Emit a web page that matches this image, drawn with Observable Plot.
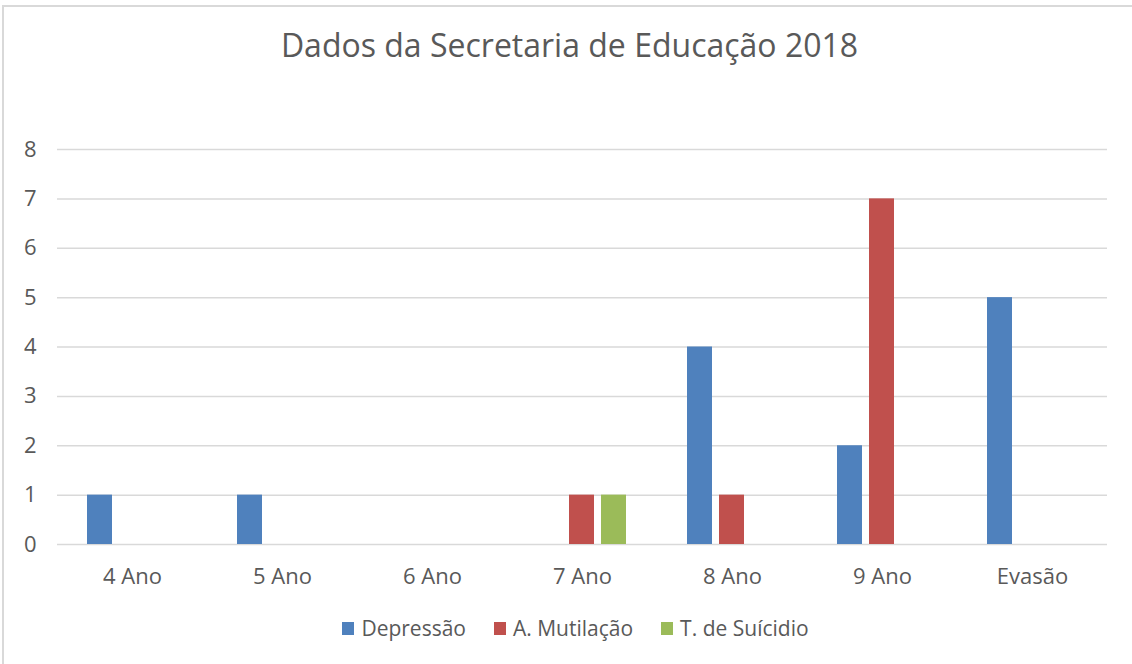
<!DOCTYPE html>
<html>
<head>
<meta charset="utf-8">
<script src="https://cdn.jsdelivr.net/npm/d3@7"></script>
<script src="https://cdn.jsdelivr.net/npm/@observablehq/plot@0.6"></script>
<style>
  html, body { margin: 0; padding: 0; background: #fff; }
  #wrap { position: relative; width: 1132px; height: 664px; overflow: hidden; font-family: "Open Sans", sans-serif; color: #595959; }
  #frame { position: absolute; left: 2px; top: 5px; width: 1140px; height: 700px; border-left: 2px solid #D9D9D9; border-top: 2px solid #D9D9D9; box-sizing: border-box; }
  #title { position: absolute; left: 0; width: 1139px; top: 25px; text-align: center; font-size: 32px; line-height: 40px; color: #595959; }
  #chart { position: absolute; left: 0; top: 0; }
  #legend { position: absolute; left: 0; width: 1151px; top: 614px; display: flex; justify-content: center; align-items: center; font-size: 21px; line-height: 28px; }
  .item { display: flex; align-items: center; margin: 0 14px; }
  .sw { width: 12px; height: 13px; margin-right: 7px; }
</style>
</head>
<body>
<div id="wrap">
  <div id="frame"></div>
  <div id="chart"></div>
  <div id="title">Dados da Secretaria de Educação 2018</div>
  <div id="legend"></div>
</div>
<script>
const categories = ["4 Ano", "5 Ano", "6 Ano", "7 Ano", "8 Ano", "9 Ano", "Evasão"];
const series = ["Depressão", "A. Mutilação", "T. de Suícidio"];
const depressao = [1, 1, 0, 0, 4, 2, 5];
const mutilacao = [0, 0, 0, 1, 1, 7, 0];
const suicidio  = [0, 0, 0, 1, 0, 0, 0];
const colors = ["#4F81BD", "#C0504D", "#9BBB59"];
const yTicks = [0, 1, 2, 3, 4, 5, 6, 7, 8];

const seriesValues = [depressao, mutilacao, suicidio];
const data = categories.flatMap((c, i) =>
  series.map((s, j) => ({ categoria: c, serie: s, valor: seriesValues[j][i] }))
);

const chart = Plot.plot({
  width: 1132,
  height: 600,
  marginTop: 149,
  marginBottom: 56,
  marginLeft: 55,
  marginRight: 24,
  style: { fontFamily: "'Open Sans', sans-serif", fontSize: "22px", color: "#595959", background: "transparent", overflow: "visible" },
  fx: { domain: categories, padding: 0, label: null },
  x: { domain: series, axis: null, paddingInner: 0.212, paddingOuter: 0.885 },
  y: { domain: [0, 8], label: null },
  color: { domain: series, range: colors },
  marks: [
    Plot.gridY(yTicks, { stroke: "#D9D9D9", strokeOpacity: 1, strokeWidth: 1.5 }),
    Plot.axisY(yTicks, { tickSize: 0, tickPadding: 21, label: null, fill: "#595959" }),
    Plot.axisFx({ anchor: "bottom", tickSize: 0, tickPadding: 24, label: null, fill: "#595959" }),
    Plot.barY(data, { fx: "categoria", x: "serie", y: "valor", fill: "serie" })
  ]
});
document.getElementById("chart").appendChild(chart);

const legend = document.getElementById("legend");
series.forEach((s, j) => {
  const it = document.createElement("div");
  it.className = "item";
  const sw = document.createElement("span");
  sw.className = "sw";
  sw.style.background = colors[j];
  const t = document.createElement("span");
  t.textContent = s;
  it.appendChild(sw);
  it.appendChild(t);
  legend.appendChild(it);
});
</script>
</body>
</html>
